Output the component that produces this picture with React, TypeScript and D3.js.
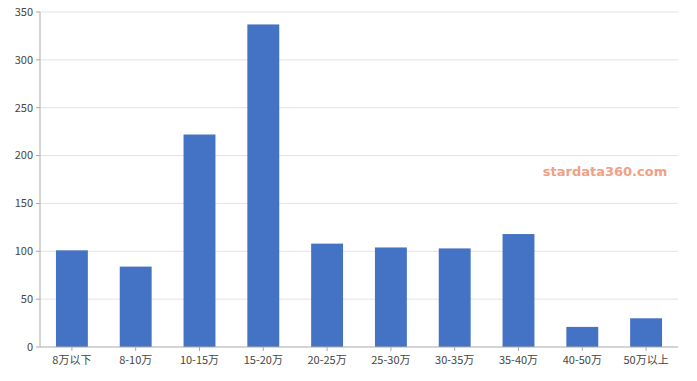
import React from "react";
import * as d3 from "d3";

const categories = ["8万以下", "8-10万", "10-15万", "15-20万", "20-25万", "25-30万", "30-35万", "35-40万", "40-50万", "50万以上"];
const values = [101, 84, 222, 337, 108, 104, 103, 118, 21, 30];
const yTicks = [0, 50, 100, 150, 200, 250, 300, 350];

const W = 697, H = 381;
const left = 40, right = 678, top = 12, bottom = 347;

export default function App() {
  const x = d3.scaleBand<string>().domain(categories).range([left, right]).paddingInner(0.5).paddingOuter(0.25);
  const y = d3.scaleLinear().domain([0, 350]).range([bottom, top]);
  const font = "'Noto Sans CJK SC', 'Noto Sans', sans-serif";
  return (
    <svg width={W} height={H} style={{ position: "absolute", left: 0, top: 0 }}>
      <rect width={W} height={H} fill="#fff" />
      {yTicks.map((t) => (
        <g key={t}>
          {t > 0 && <line x1={left} x2={right} y1={y(t)} y2={y(t)} stroke="#e3e3e3" strokeWidth={1} />}
          <line x1={left - 4} x2={left} y1={y(t)} y2={y(t)} stroke="#aaa" />
          <text x={left - 7} y={y(t)} dy="0.35em" textAnchor="end" fontSize={11} fill="#444" fontFamily={font}>{t}</text>
        </g>
      ))}
      {categories.map((c, i) => (
        <rect key={c} x={x(c)} width={x.bandwidth()} y={y(values[i])} height={y(0) - y(values[i])} fill="#4472C4" />
      ))}
      <line x1={left} x2={left} y1={top} y2={bottom} stroke="#aaa" />
      <line x1={left} x2={right} y1={bottom} y2={bottom} stroke="#aaa" strokeWidth={1.2} />
      {categories.map((c) => {
        const cx = (x(c) as number) + x.bandwidth() / 2;
        return (
          <g key={c}>
            <line x1={cx} x2={cx} y1={bottom} y2={bottom + 4} stroke="#aaa" />
            <text x={cx} y={bottom + 17} textAnchor="middle" fontSize={11} fill="#444" fontFamily={font}>{c}</text>
          </g>
        );
      })}
      <text x={605} y={176} textAnchor="middle" fontSize={13} fill="#f0a084" fontWeight="bold" fontFamily="'DejaVu Sans', sans-serif">stardata360.com</text>
    </svg>
  );
}
